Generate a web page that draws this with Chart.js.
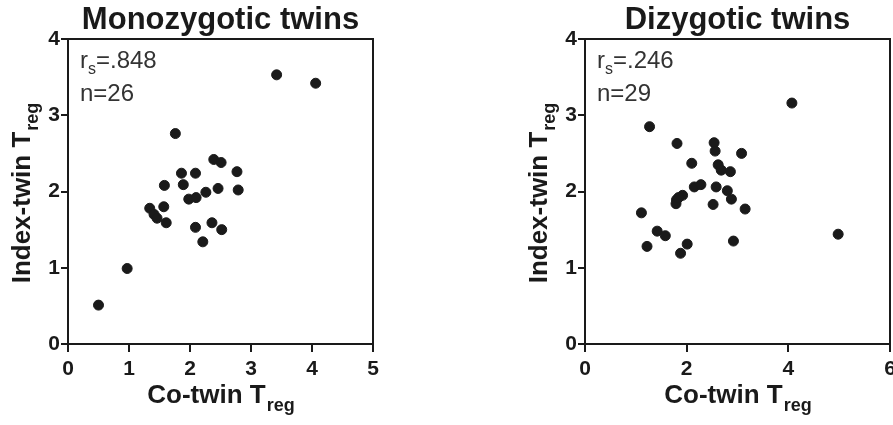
<!DOCTYPE html>
<html>
<head>
<meta charset="utf-8">
<script src="https://cdn.jsdelivr.net/npm/chart.js@4"></script>
<style>
  html, body { margin: 0; padding: 0; background: #fff; overflow: hidden; width: 893px; height: 425px; }
  .box { position: absolute; top: 0; width: 440px; height: 425px; }
</style>
</head>
<body>
<div class="box" style="left:0"><canvas id="mz"></canvas></div>
<div class="box" style="left:517px"><canvas id="dz"></canvas></div>
<script>
// Monozygotic twins: co-twin vs index-twin Treg
const mzCoTwin = [3.42, 4.06, 1.76, 2.39, 2.51, 2.77, 1.86, 2.09, 1.58, 1.89, 2.46, 2.79, 2.26,
                  1.98, 2.10, 1.34, 1.57, 1.41, 1.46, 1.61, 2.09, 2.36, 2.52, 2.21, 0.97, 0.50];
const mzIndex  = [3.53, 3.42, 2.76, 2.42, 2.38, 2.26, 2.24, 2.24, 2.08, 2.09, 2.04, 2.02, 1.99,
                  1.90, 1.92, 1.78, 1.80, 1.70, 1.65, 1.59, 1.53, 1.59, 1.50, 1.34, 0.99, 0.51];

// Dizygotic twins
const dzCoTwin = [4.07, 1.27, 1.81, 2.54, 2.56, 3.08, 2.10, 2.62, 2.68, 2.86, 2.15, 2.28, 2.58,
                  2.80, 2.88, 1.92, 1.80, 1.79, 1.84, 2.52, 3.15, 1.11, 1.42, 1.58, 1.22, 2.01, 1.88, 2.92, 4.98];
const dzIndex  = [3.16, 2.85, 2.63, 2.64, 2.53, 2.50, 2.37, 2.35, 2.28, 2.26, 2.06, 2.09, 2.06,
                  2.01, 1.90, 1.95, 1.89, 1.84, 1.92, 1.83, 1.77, 1.72, 1.48, 1.42, 1.28, 1.31, 1.19, 1.35, 1.44];

const mzTicksX = [0, 1, 2, 3, 4, 5];
const dzTicksX = [0, 2, 4, 6];
const ticksY = [0, 1, 2, 3, 4];

const font = "'Liberation Sans', Arial, sans-serif";
const ink = '#1a1a1a';

function toPoints(xs, ys) {
  return xs.map((x, i) => ({ x: x, y: ys[i] }));
}

// text with a subscript tail, centered on cx, baseline y
function subText(ctx, main, sub, cx, y, size) {
  const subSize = Math.round(size * 0.68);
  ctx.font = 'bold ' + size + 'px ' + font;
  const w1 = ctx.measureText(main).width;
  ctx.font = 'bold ' + subSize + 'px ' + font;
  const w2 = ctx.measureText(sub).width;
  const x = cx - (w1 + w2) / 2;
  ctx.textAlign = 'left';
  ctx.textBaseline = 'alphabetic';
  ctx.font = 'bold ' + size + 'px ' + font;
  ctx.fillText(main, x, y);
  ctx.font = 'bold ' + subSize + 'px ' + font;
  ctx.fillText(sub, x + w1 + 1, y + size * 0.3);
}

const decorations = {
  id: 'decorations',
  afterDraw(chart, args, opts) {
    const ctx = chart.ctx;
    const a = chart.chartArea;
    const cx = (a.left + a.right) / 2;
    ctx.save();
    ctx.fillStyle = ink;
    ctx.strokeStyle = ink;

    // frame top and right
    ctx.lineWidth = 2;
    ctx.beginPath();
    ctx.moveTo(a.left, a.top);
    ctx.lineTo(a.right, a.top);
    ctx.lineTo(a.right, a.bottom);
    ctx.stroke();

    // title
    ctx.font = 'bold 31px ' + font;
    ctx.textAlign = 'center';
    ctx.textBaseline = 'alphabetic';
    ctx.fillText(opts.title, cx, 29);

    // x-axis title
    subText(ctx, 'Co-twin T', 'reg', cx, 403, 26);

    // y-axis title
    ctx.save();
    ctx.translate(30, (a.top + a.bottom) / 2 + 2);
    ctx.rotate(-Math.PI / 2);
    subText(ctx, 'Index-twin T', 'reg', 0, 0, 26);
    ctx.restore();

    // stats
    ctx.fillStyle = '#333';
    ctx.textAlign = 'left';
    const x0 = a.left + 12;
    ctx.font = '24px ' + font;
    ctx.fillText('r', x0, a.top + 29);
    const rw = ctx.measureText('r').width;
    ctx.font = '16px ' + font;
    ctx.fillText('s', x0 + rw, a.top + 35);
    const sw = ctx.measureText('s').width;
    ctx.font = '24px ' + font;
    ctx.fillText('=' + opts.rs, x0 + rw + sw, a.top + 29);
    ctx.fillText('n=' + opts.n, x0, a.top + 62);
    ctx.restore();
  }
};

function makeChart(id, xs, ys, xMax, xTicks, title, rs, n) {
  new Chart(document.getElementById(id), {
    type: 'scatter',
    data: {
      datasets: [{
        data: toPoints(xs, ys),
        backgroundColor: ink,
        borderColor: ink,
        pointRadius: 5,
        pointHoverRadius: 5
      }]
    },
    options: {
      responsive: false,
      animation: false,
      events: [],
      layout: { padding: { left: 0, top: 39, right: 440 - 373, bottom: 0 } },
      plugins: {
        legend: { display: false },
        tooltip: { enabled: false },
        decorations: { title: title, rs: rs, n: n }
      },
      scales: {
        x: {
          type: 'linear', min: 0, max: xMax,
          afterBuildTicks: s => { s.ticks = xTicks.map(v => ({ value: v })); },
          afterFit: s => { s.height = 425 - 344; },
          grid: { drawOnChartArea: false, drawTicks: true, tickLength: 8, color: ink, lineWidth: 2 },
          border: { display: true, color: ink, width: 2 },
          ticks: { color: ink, padding: 5, maxRotation: 0, font: { family: font, size: 21, weight: 'bold' } }
        },
        y: {
          type: 'linear', min: 0, max: 4,
          afterBuildTicks: s => { s.ticks = ticksY.map(v => ({ value: v })); },
          afterFit: s => { s.width = 68; },
          grid: { drawOnChartArea: false, drawTicks: true, tickLength: 7, color: ink, lineWidth: 2 },
          border: { display: true, color: ink, width: 2 },
          ticks: { color: ink, padding: 1, font: { family: font, size: 21, weight: 'bold' } }
        }
      }
    },
    plugins: [decorations]
  });
}

document.getElementById('mz').width = 440;
document.getElementById('mz').height = 425;
document.getElementById('dz').width = 440;
document.getElementById('dz').height = 425;

makeChart('mz', mzCoTwin, mzIndex, 5, mzTicksX, 'Monozygotic twins', '.848', 26);
makeChart('dz', dzCoTwin, dzIndex, 6, dzTicksX, 'Dizygotic twins', '.246', 29);
</script>
</body>
</html>
